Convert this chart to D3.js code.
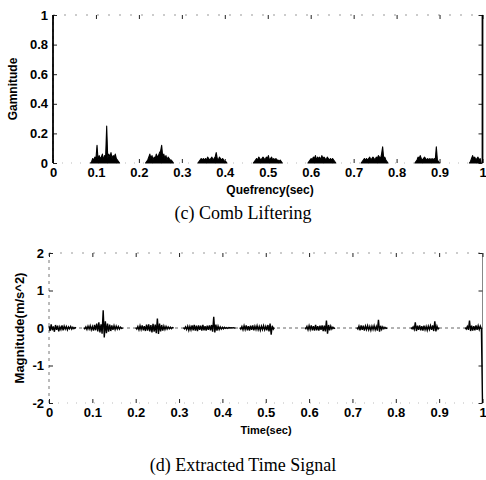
<!DOCTYPE html>
<html>
<head>
<meta charset="utf-8">
<script src="https://cdn.jsdelivr.net/npm/d3@7/dist/d3.min.js"></script>
<style>
  body { margin: 0; background: #fff; }
  .tick text { font-family: "Liberation Sans", Arial, sans-serif; font-weight: bold; font-size: 13px; fill: #000; }
  .tick line { stroke: #222; }
</style>
</head>
<body>
<svg id="chart" width="486" height="480"></svg>
<script>
(function() {
    'use strict';

    // Tick values
    const quefTicks = [0, 0.1, 0.2, 0.3, 0.4, 0.5, 0.6, 0.7, 0.8, 0.9, 1];
    const gamTicks = [0, 0.2, 0.4, 0.6, 0.8, 1];
    const timeTicks = [0, 0.1, 0.2, 0.3, 0.4, 0.5, 0.6, 0.7, 0.8, 0.9, 1];
    const magTicks = [-2, -1, 0, 1, 2];

    // (c) comb liftered cepstrum: clusters of samples, one every cepStep sec
    const cepStep = 0.0025;
    const cepStarts = [0.090, 0.218, 0.340, 0.469, 0.596, 0.720, 0.845, 0.972];
    const cepValues = [
        [0.01,0.03,0.02,0.04,0.03,0.12,0.02,0.05,0.03,0.04,0.06,0.02,0.05,0.04,0.25,0.03,0.06,0.04,0.07,0.03,0.05,0.04,0.06,0.03,0.02,0.01],
        [0.01,0.02,0.04,0.06,0.03,0.05,0.02,0.04,0.03,0.06,0.04,0.05,0.07,0.08,0.12,0.04,0.06,0.03,0.05,0.02,0.04,0.03,0.02,0.02,0.01],
        [0.01,0.02,0.03,0.02,0.03,0.02,0.03,0.02,0.04,0.03,0.02,0.03,0.04,0.02,0.03,0.04,0.07,0.03,0.02,0.04,0.03,0.02,0.03,0.02,0.01,0.01],
        [0.01,0.02,0.03,0.02,0.04,0.03,0.02,0.03,0.04,0.03,0.02,0.04,0.03,0.05,0.02,0.03,0.04,0.02,0.03,0.02,0.03,0.02,0.02,0.01,0.02,0.01],
        [0.01,0.02,0.03,0.02,0.04,0.03,0.05,0.02,0.04,0.03,0.04,0.02,0.05,0.03,0.04,0.03,0.02,0.04,0.03,0.02,0.03,0.02,0.03,0.02,0.01],
        [0.01,0.02,0.03,0.02,0.03,0.02,0.03,0.04,0.02,0.03,0.04,0.03,0.02,0.04,0.03,0.05,0.04,0.03,0.06,0.11,0.03,0.04,0.02,0.01],
        [0.01,0.02,0.04,0.03,0.05,0.03,0.02,0.03,0.04,0.03,0.02,0.03,0.02,0.03,0.02,0.03,0.02,0.03,0.02,0.11,0.02,0.01],
        [0.01,0.03,0.05,0.03,0.04,0.02,0.03,0.04,0.02,0.03]
    ];
    // full-height samples at both ends of the quefrency range
    const cepSpikeAt = [0, 1];
    const cepSpikeVal = [1, 1];

    // (d) extracted time signal: bursts of samples, one every sigStep sec
    const sigStep = 0.0025;
    const sigStarts = [0.000, 0.080, 0.200, 0.310, 0.440, 0.590, 0.710, 0.835, 0.960];
    const sigValues = [
        [0.05,-0.08,0.10,-0.06,0.04,-0.10,0.08,-0.05,0.06,-0.09,0.03,-0.04,0.07,-0.06,0.05,-0.03,0.04,-0.05,0.03,-0.02,0.04,-0.03,0.02,-0.02,0.01,0],
        [0.01,-0.02,0.03,-0.04,0.05,-0.03,0.06,-0.05,0.04,-0.07,0.08,-0.06,0.12,-0.09,0.15,-0.12,0.10,-0.15,0.47,-0.25,0.18,-0.14,0.12,-0.10,0.09,-0.08,0.07,-0.05,0.06,-0.04,0.05,-0.03,0.04,-0.03,0.02,-0.01,0],
        [0.01,-0.03,0.04,-0.05,0.06,-0.04,0.07,-0.06,0.05,-0.08,0.09,-0.07,0.10,-0.09,0.08,-0.12,0.11,-0.10,0.09,-0.14,0.25,-0.16,0.12,-0.09,0.08,-0.07,0.05,-0.04,0.04,-0.03,0.03,-0.02,0.02,-0.02,0.01,0],
        [0.01,-0.02,0.03,-0.04,0.05,-0.06,0.04,-0.05,0.07,-0.06,0.08,-0.07,0.06,-0.08,0.07,-0.05,0.06,-0.07,0.08,-0.06,0.05,-0.07,0.06,-0.05,0.07,-0.06,0.08,-0.10,0.30,-0.12,0.09,-0.07,0.05,-0.04,0.03,-0.03,0.02,-0.02,0.02,-0.01,0.01,-0.01,0.01,0,0.01,0,0.01,0,0],
        [0.01,-0.03,0.04,-0.05,0.06,-0.04,0.07,-0.06,0.05,-0.07,0.06,-0.05,0.07,-0.06,0.05,-0.04,0.06,-0.05,0.04,-0.06,0.05,-0.04,0.06,-0.05,0.04,-0.06,0.08,-0.09,0.12,-0.18,0.06,-0.03,0.01],
        [0.01,-0.02,0.04,-0.05,0.06,-0.04,0.07,-0.06,0.05,-0.07,0.08,-0.06,0.05,-0.07,0.06,-0.05,0.07,-0.08,0.06,-0.09,0.20,-0.15,0.08,-0.06,0.05,-0.03,0.02,-0.01,0],
        [0.01,-0.03,0.05,-0.06,0.07,-0.05,0.06,-0.07,0.05,-0.04,0.06,-0.05,0.04,-0.06,0.05,-0.04,0.06,-0.05,0.04,-0.07,0.22,-0.10,0.06,-0.04,0.03,-0.02,0.02,-0.01,0],
        [0.01,-0.02,0.03,-0.04,0.15,-0.08,0.06,-0.05,0.07,-0.06,0.05,-0.07,0.06,-0.05,0.04,-0.06,0.05,-0.04,0.06,-0.05,0.07,-0.08,0.18,-0.09,0.05,-0.03,0.01],
        [0.01,-0.03,0.04,-0.05,0.20,-0.08,0.06,-0.07,0.05,-0.06,0.07,-0.05,0.06,-0.04,0.05,-0.03]
    ];
    const sigTail = [1.0, -2];

    // Layout
    const top = { left: 53, right: 482.5, top: 15, bottom: 163 };
    const bot = { left: 49, right: 482.5, top: 253, bottom: 403 };
    const sansFont = '"Liberation Sans", Arial, sans-serif';
    const serifFont = '"Liberation Serif", "Times New Roman", serif';
    const fmt = d => String(d);

    const svg = d3.select('#chart');

    // Frame drawn like the faded scan: dashed left edge, sparse top/bottom
    function drawFrame(box) {
        const f = svg.append('g').attr('fill', 'none');
        f.append('line')
            .attr('x1', box.left).attr('x2', box.left)
            .attr('y1', box.top).attr('y2', box.bottom)
            .attr('stroke', '#777').attr('stroke-dasharray', '3,4');
        f.append('line')
            .attr('x1', box.left).attr('x2', box.right)
            .attr('y1', box.top).attr('y2', box.top)
            .attr('stroke', '#999').attr('stroke-dasharray', '2,9');
        f.append('line')
            .attr('x1', box.left).attr('x2', box.right)
            .attr('y1', box.bottom).attr('y2', box.bottom)
            .attr('stroke', '#bbb').attr('stroke-dasharray', '1,8');
        f.append('line')
            .attr('x1', box.right).attr('x2', box.right)
            .attr('y1', box.top).attr('y2', box.bottom)
            .attr('stroke', '#888');
    }

    function drawAxes(box, x, y, xt, yt) {
        svg.append('g')
            .attr('transform', `translate(0,${box.bottom})`)
            .call(d3.axisBottom(x).tickValues(xt).tickFormat(fmt).tickSize(-4).tickPadding(5))
            .call(g => g.select('.domain').remove());
        svg.append('g')
            .attr('transform', `translate(0,${box.top})`)
            .call(d3.axisTop(x).tickValues(xt).tickFormat('').tickSize(-4))
            .call(g => g.select('.domain').remove());
        svg.append('g')
            .attr('transform', `translate(${box.left},0)`)
            .call(d3.axisLeft(y).tickValues(yt).tickFormat(fmt).tickSize(-4).tickPadding(5))
            .call(g => g.select('.domain').remove());
        svg.append('g')
            .attr('transform', `translate(${box.right},0)`)
            .call(d3.axisRight(y).tickValues(yt).tickFormat('').tickSize(-4))
            .call(g => g.select('.domain').remove());
    }

    // ---- (c) Comb Liftering ----
    const xq = d3.scaleLinear().domain([0, 1]).range([top.left, top.right]);
    const yg = d3.scaleLinear().domain([0, 1]).range([top.bottom, top.top]);

    drawFrame(top);
    drawAxes(top, xq, yg, quefTicks, gamTicks);

    // clusters drawn as filled areas, they print as solid black blobs
    const cepArea = d3.area().x(d => xq(d[0])).y0(yg(0)).y1(d => yg(d[1]));
    cepStarts.forEach((s, i) => {
        const vals = cepValues[i];
        const pts = [[s - cepStep, 0]]
            .concat(vals.map((v, j) => [s + j * cepStep, v]))
            .concat([[s + vals.length * cepStep, 0]]);
        svg.append('path')
            .attr('d', cepArea(pts))
            .attr('fill', '#000')
            .attr('stroke', '#000')
            .attr('stroke-width', 1.1)
            .attr('stroke-linejoin', 'round');
    });

    const cepLine = d3.line().x(d => xq(d[0])).y(d => yg(d[1]));
    cepSpikeAt.forEach((t, i) => {
        svg.append('path')
            .attr('d', cepLine([[t, 0], [t, cepSpikeVal[i]]]))
            .attr('fill', 'none')
            .attr('stroke', '#000')
            .attr('stroke-width', 1.8);
    });

    svg.append('text')
        .attr('x', 270).attr('y', 194)
        .attr('text-anchor', 'middle')
        .attr('font-family', sansFont).attr('font-size', 12).attr('font-weight', 'bold')
        .text('Quefrency(sec)');
    svg.append('text')
        .attr('transform', `translate(17,${(top.top + top.bottom) / 2}) rotate(-90)`)
        .attr('text-anchor', 'middle')
        .attr('font-family', sansFont).attr('font-size', 12).attr('font-weight', 'bold')
        .text('Gamnitude');
    svg.append('text')
        .attr('x', 243).attr('y', 219)
        .attr('text-anchor', 'middle')
        .attr('font-family', serifFont).attr('font-size', 18)
        .text('(c) Comb Liftering');

    // ---- (d) Extracted Time Signal ----
    const xt = d3.scaleLinear().domain([0, 1]).range([bot.left, bot.right]);
    const ym = d3.scaleLinear().domain([-2, 2]).range([bot.bottom, bot.top]);

    drawFrame(bot);
    drawAxes(bot, xt, ym, timeTicks, magTicks);

    // faint zero line between bursts
    svg.append('line')
        .attr('x1', xt(0)).attr('x2', xt(1))
        .attr('y1', ym(0)).attr('y2', ym(0))
        .attr('stroke', '#666').attr('stroke-dasharray', '3,3');

    const sigLine = d3.line().x(d => xt(d[0])).y(d => ym(d[1]));
    sigStarts.forEach((s, i) => {
        const vals = sigValues[i];
        let pts = vals.map((v, j) => [s + j * sigStep, v]);
        if (i === sigStarts.length - 1) pts = pts.concat([sigTail]);
        svg.append('path')
            .attr('d', sigLine(pts))
            .attr('fill', 'none')
            .attr('stroke', '#000')
            .attr('stroke-width', 1.4);
    });

    svg.append('text')
        .attr('x', 266).attr('y', 434)
        .attr('text-anchor', 'middle')
        .attr('font-family', sansFont).attr('font-size', 11).attr('font-weight', 'bold')
        .text('Time(sec)');
    svg.append('text')
        .attr('transform', `translate(24,${(bot.top + bot.bottom) / 2}) rotate(-90)`)
        .attr('text-anchor', 'middle')
        .attr('font-family', sansFont).attr('font-size', 13).attr('font-weight', 'bold')
        .text('Magnitude(m/s^2)');
    svg.append('text')
        .attr('x', 243).attr('y', 471)
        .attr('text-anchor', 'middle')
        .attr('font-family', serifFont).attr('font-size', 18)
        .text('(d) Extracted Time Signal');
})();
</script>
</body>
</html>
